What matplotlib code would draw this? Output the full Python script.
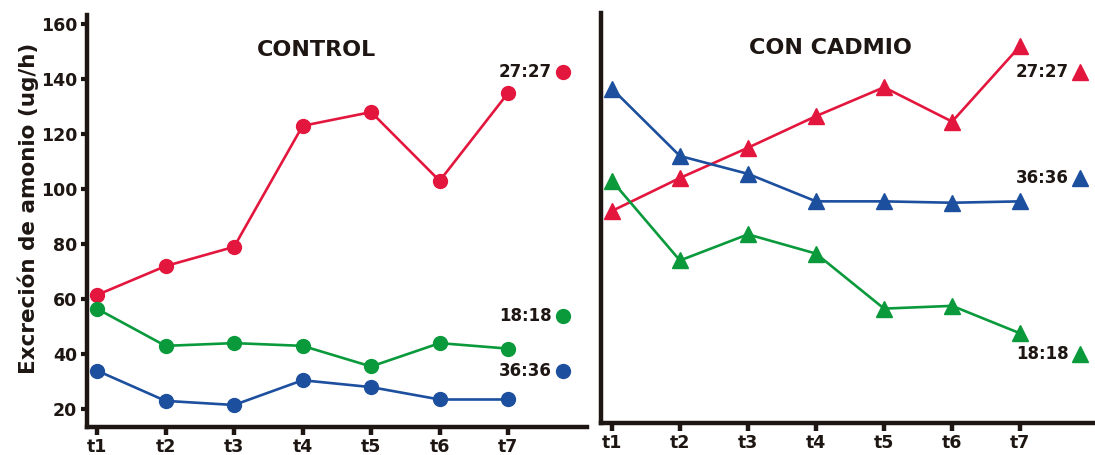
import numpy as np
import matplotlib
matplotlib.use('Agg')
import matplotlib.pyplot as plt

# tiempos de muestreo
tiempos = ['t1', 't2', 't3', 't4', 't5', 't6', 't7']
x = np.arange(1, 8)

# excrecion de amonio (ug/h), control
ctrl_2727 = [61.5, 72, 79, 123, 128, 103, 135]
ctrl_1818 = [56.5, 43, 44, 43, 35.5, 44, 42]
ctrl_3636 = [34, 23, 21.5, 30.5, 28, 23.5, 23.5]

# excrecion de amonio (ug/h), con cadmio
cd_2727 = [92, 104, 115, 126.5, 137, 124.5, 152]
cd_1818 = [103, 74, 83.5, 76.5, 56.5, 57.5, 47.5]
cd_3636 = [136.5, 112, 105.5, 95.5, 95.5, 95, 95.5]

# etiquetas de grupo (orden: 27:27, 18:18, 36:36)
etiquetas = ['27:27', '18:18', '36:36']
pos_etiq_ctrl = [142.5, 54, 34]
pos_etiq_cd = [142.5, 40, 104]

rojo = '#e3173e'
verde = '#0a9a3c'
azul = '#1d4f9f'
negro = '#1e1612'
colores = [rojo, verde, azul]

plt.rcParams['font.family'] = 'DejaVu Sans'
plt.rcParams['font.weight'] = 'bold'

fig = plt.figure(figsize=(10.95, 4.55), dpi=100)
ax1 = fig.add_axes([87/1095, 1 - 427/455, 500/1095, 412/455])
ax2 = fig.add_axes([601/1095, 1 - 423/455, 494/1095, 410/455])


def estilo(ax, xlim, ylim):
    for s in ['top', 'right']:
        ax.spines[s].set_visible(False)
    for s in ['left', 'bottom']:
        ax.spines[s].set_linewidth(3.2)
        ax.spines[s].set_color(negro)
    ax.set_xlim(*xlim)
    ax.set_ylim(*ylim)
    ax.set_xticks(x)
    ax.set_xticklabels(tiempos, fontsize=12.5, fontweight='bold', color=negro)
    ax.tick_params(axis='x', length=6, width=3.2, color=negro, pad=2)


# panel control
series_ctrl = [ctrl_2727, ctrl_1818, ctrl_3636]
for y, c in zip(series_ctrl, colores):
    ax1.plot(x, y, '-o', color=c, lw=1.9, ms=10)
for lab, yy, c in zip(etiquetas, pos_etiq_ctrl, colores):
    ax1.plot(7.8, yy, 'o', color=c, ms=10)
    ax1.annotate(lab, (7.8, yy), xytext=(-8, 0), textcoords='offset points',
                 ha='right', va='center', fontsize=12, fontweight='bold', color=negro)
estilo(ax1, (0.854, 8.15), (13.5, 163.3))
ax1.set_yticks(np.arange(20, 161, 20))
ax1.tick_params(axis='y', length=4, width=3, color=negro, pad=3, labelsize=12.5,
                labelcolor=negro)
ax1.text(0.46, 0.915, 'CONTROL', transform=ax1.transAxes, ha='center', va='center',
         fontsize=16, fontweight='bold', color=negro)

# panel con cadmio
series_cd = [cd_2727, cd_1818, cd_3636]
for y, c in zip(series_cd, colores):
    ax2.plot(x, y, '-^', color=c, lw=1.9, ms=11)
for lab, yy, c in zip(etiquetas, pos_etiq_cd, colores):
    ax2.plot(7.88, yy, '^', color=c, ms=11)
    ax2.annotate(lab, (7.88, yy), xytext=(-8, 0), textcoords='offset points',
                 ha='right', va='center', fontsize=12, fontweight='bold', color=negro)
estilo(ax2, (0.84, 8.1), (14.9, 164))
ax2.set_yticks([])
ax2.text(0.465, 0.915, 'CON CADMIO', transform=ax2.transAxes, ha='center', va='center',
         fontsize=16, fontweight='bold', color=negro)

fig.text(28/1095, 1 - 208/455, 'Excreción de amonio (ug/h)', rotation=90,
         ha='center', va='center', fontsize=15.5, fontweight='bold', color=negro)

fig.savefig('out.png', dpi=100)
